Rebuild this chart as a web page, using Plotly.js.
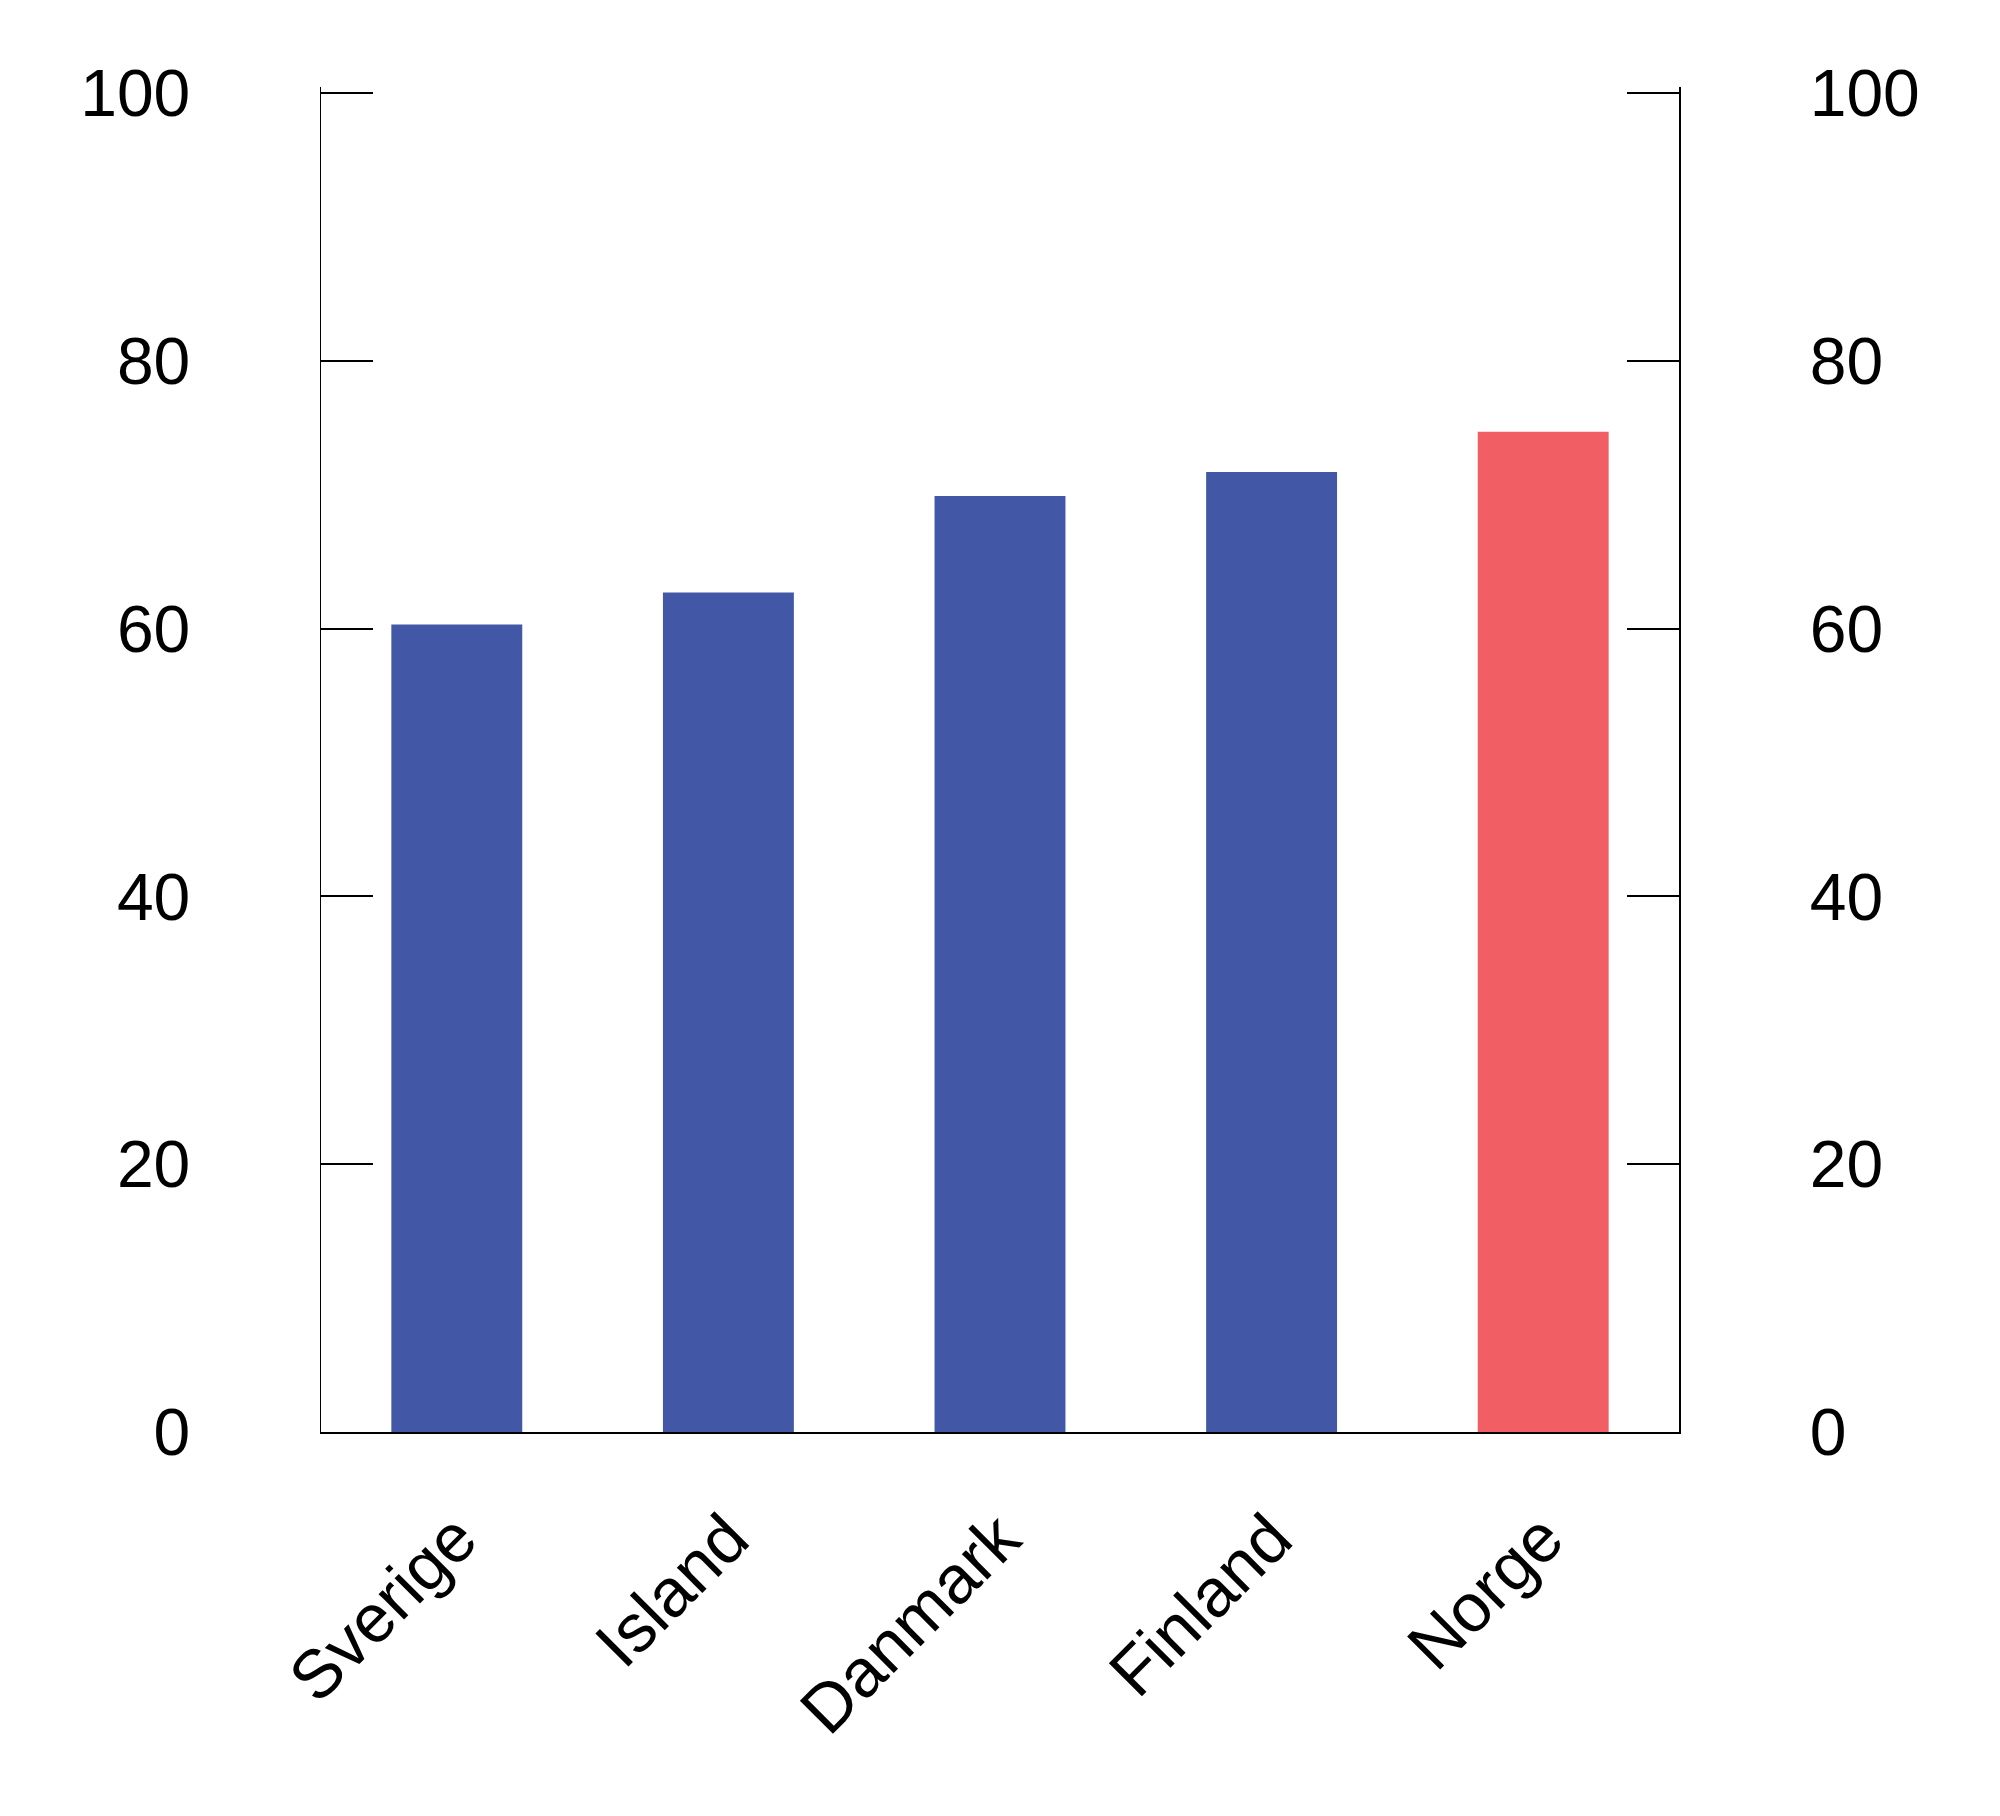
<!DOCTYPE html>
<html>
<head>
<meta charset="utf-8">
<script src="https://cdn.plot.ly/plotly-3.0.1.min.js"></script>
<style>
  html, body { margin: 0; padding: 0; background: #fff; }
  #chart { width: 2000px; height: 1816px; }
</style>
</head>
<body>
<div id="chart"></div>
<script>
var countries = ['Sverige', 'Island', 'Danmark', 'Finland', 'Norge'];
var shares = [60.3, 62.7, 69.9, 71.7, 74.7];
var barColors = ['#4257a5', '#4257a5', '#4257a5', '#4257a5', '#f15e63'];
var yTicks = [0, 20, 40, 60, 80, 100];

var bars = {
  x: countries,
  y: shares,
  type: 'bar',
  marker: { color: barColors },
  hoverinfo: 'x+y'
};

// hidden copy so the right-hand axis gets drawn
var rightAxisHolder = {
  x: countries,
  y: shares,
  type: 'scatter',
  mode: 'markers',
  marker: { opacity: 0 },
  yaxis: 'y2',
  hoverinfo: 'skip'
};

var yFont = { family: 'Liberation Sans, Arial, sans-serif', size: 66, color: '#000' };
var xFont = { family: 'Liberation Sans, Arial, sans-serif', size: 68, color: '#000' };

var yaxisBase = {
  range: [0, 100.45],
  tickvals: yTicks,
  ticktext: yTicks.map(String),
  ticks: 'inside',
  ticklen: 52,
  tickwidth: 2,
  tickcolor: '#000',
  showline: true,
  linecolor: '#000',
  linewidth: 1.5,
  showgrid: false,
  zeroline: false,
  tickfont: yFont,
  ticklabelstandoff: 116,
  fixedrange: true
};

var layout = {
  width: 2000,
  height: 1816,
  margin: { l: 321, r: 321, t: 87, b: 384, pad: 0 },
  paper_bgcolor: '#fff',
  plot_bgcolor: '#fff',
  showlegend: false,
  bargap: 0.518,
  xaxis: {
    type: 'category',
    showline: true,
    linecolor: '#000',
    linewidth: 2,
    ticks: '',
    showgrid: false,
    zeroline: false,
    tickangle: -45,
    tickfont: xFont,
    ticklabelstandoff: 37,
    fixedrange: true
  },
  yaxis: Object.assign({}, yaxisBase, { side: 'left' }),
  yaxis2: Object.assign({}, yaxisBase, { side: 'right', overlaying: 'y' })
};

var config = { staticPlot: true };
Plotly.newPlot('chart', [bars, rightAxisHolder], layout, config);
</script>
</body>
</html>
